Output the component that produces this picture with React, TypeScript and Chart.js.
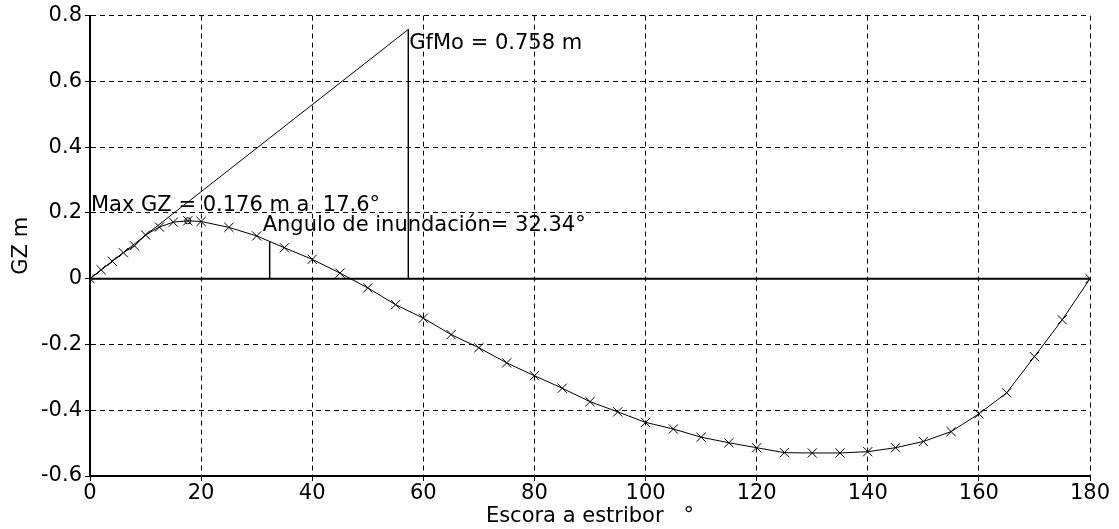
import React, { useEffect, useRef } from "react";
import { Chart, registerables } from "chart.js";

Chart.register(...registerables);

const angles = [0, 2, 4, 6, 8, 10, 12.5, 15, 17.6, 20, 25, 30, 35, 40, 45, 50, 55, 60, 65, 70, 75, 80, 85, 90, 95, 100, 105, 110, 115, 120, 125, 130, 135, 140, 145, 150, 155, 160, 165, 170, 175, 180];
const gz = [0, 0.027, 0.053, 0.079, 0.1, 0.133, 0.157, 0.172, 0.176, 0.174, 0.156, 0.13, 0.094, 0.059, 0.017, -0.028, -0.079, -0.12, -0.17, -0.21, -0.256, -0.295, -0.333, -0.374, -0.405, -0.437, -0.457, -0.482, -0.499, -0.514, -0.529, -0.53, -0.53, -0.526, -0.514, -0.495, -0.465, -0.411, -0.347, -0.237, -0.125, 0];

const gmRadian = 57.3;
const gmValue = 0.758;
const maxGzAngle = 17.6;
const maxGzValue = 0.176;
const floodAngle = 32.34;
const floodGz = 0.113;

const xTitle = "Escora a estribor   °";
const yTitle = "GZ m";
const gmLabel = "GfMo = 0.758 m";
const maxLabel = "Max GZ = 0.176 m a  17.6°";
const floodLabel = "Angulo de inundación= 32.34°";

const FONT = "'DejaVu Sans', 'Liberation Sans', Arial, sans-serif";
const FS = 21;

export default function App() {
  const ref = useRef<HTMLCanvasElement | null>(null);
  useEffect(() => {
    document.body.style.margin = "0";
    const canvas = ref.current;
    if (!canvas) return;

    const textPlugin = {
      id: "annot",
      afterDatasetsDraw(chart: any) {
        const { ctx, scales } = chart;
        const x = scales.x;
        const y = scales.y;
        ctx.save();
        ctx.fillStyle = "#000";
        ctx.font = `${FS}px ${FONT}`;
        ctx.textAlign = "left";
        ctx.textBaseline = "middle";
        ctx.fillText(gmLabel, x.getPixelForValue(gmRadian) + 1, y.getPixelForValue(gmValue) + 14);
        ctx.fillText(maxLabel, x.getPixelForValue(0) + 1, y.getPixelForValue(maxGzValue) - 15);
        ctx.fillText(floodLabel, x.getPixelForValue(floodAngle) - 7, y.getPixelForValue(floodGz) - 16);
        ctx.restore();
      },
    };

    const chart = new Chart(canvas, {
      type: "scatter",
      data: {
        datasets: [
          {
            data: [{ x: 0, y: 0 }, { x: 180, y: 0 }],
            showLine: true,
            borderColor: "#000",
            borderWidth: 2,
            pointRadius: 0,
          },
          {
            data: [
              { x: 0, y: 0 },
              { x: gmRadian, y: gmValue },
              { x: gmRadian, y: 0 },
            ],
            showLine: true,
            borderColor: "#000",
            borderWidth: 1,
            pointRadius: 0,
          },
          {
            data: [
              { x: floodAngle, y: 0 },
              { x: floodAngle, y: floodGz },
            ],
            showLine: true,
            borderColor: "#000",
            borderWidth: 1.5,
            pointRadius: 0,
          },
          {
            data: [{ x: maxGzAngle, y: maxGzValue }],
            showLine: false,
            borderColor: "#000",
            backgroundColor: "rgba(0,0,0,0)",
            borderWidth: 1,
            pointStyle: "circle",
            pointRadius: 3,
          },
          {
            data: angles.map((a, i) => ({ x: a, y: gz[i] })),
            showLine: true,
            borderColor: "#000",
            backgroundColor: "#000",
            borderWidth: 1,
            pointStyle: "crossRot",
            pointRadius: 6.5,
            pointBorderWidth: 1,
            pointBorderColor: "#000",
          },
        ],
      },
      options: {
        responsive: false,
        animation: false,
        events: [],
        layout: { padding: { left: 0, top: 15, right: 29, bottom: 0 } },
        plugins: { legend: { display: false }, tooltip: { enabled: false } },
        scales: {
          x: {
            type: "linear",
            min: 0,
            max: 180,
            afterFit: (s: any) => {
              s.height = 53;
            },
            ticks: {
              stepSize: 20,
              maxRotation: 0,
              autoSkip: false,
              padding: 0,
              color: "#000",
              font: { family: FONT, size: FS },
            },
            grid: {
              color: "#000",
              lineWidth: 1,
              drawTicks: true,
              tickLength: 5,
              tickColor: "#000",
              tickWidth: 1,
            },
            border: { display: true, color: "#000", width: 2, dash: [5, 4] },
            title: {
              display: true,
              text: xTitle,
              color: "#000",
              font: { family: FONT, size: FS },
              padding: { top: 0, bottom: 0 },
            },
          },
          y: {
            type: "linear",
            min: -0.6,
            max: 0.8,
            afterFit: (s: any) => {
              s.width = 90;
            },
            ticks: {
              stepSize: 0.2,
              padding: 3,
              color: "#000",
              font: { family: FONT, size: FS },
              callback: (v: any) => String(Math.round(Number(v) * 10) / 10),
            },
            grid: {
              color: "#000",
              lineWidth: 1,
              drawTicks: true,
              tickLength: 5,
              tickColor: "#000",
              tickWidth: 1,
            },
            border: { display: true, color: "#000", width: 2, dash: [5, 4] },
            title: {
              display: true,
              text: yTitle,
              color: "#000",
              font: { family: FONT, size: FS },
              padding: { top: 9, bottom: 0 },
            },
          },
        },
      },
      plugins: [textPlugin],
    });
    return () => chart.destroy();
  }, []);

  return (
    <div style={{ width: 1119, height: 529, background: "#fff" }}>
      <canvas ref={ref} width={1119} height={529} style={{ display: "block" }} />
    </div>
  );
}
